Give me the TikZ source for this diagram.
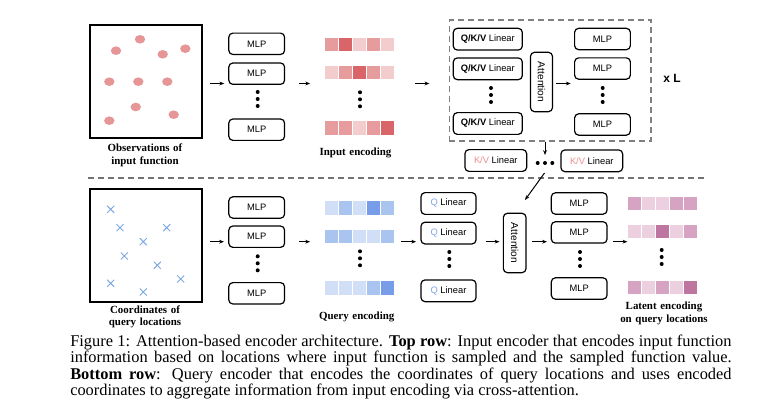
\documentclass[tikz,border=0pt]{standalone}
\usepackage{fontspec}
\setmainfont{Liberation Serif}
\setsansfont{Liberation Sans}
\usepackage{xcolor}
\usepackage{tikz}
\usetikzlibrary{arrows.meta, positioning, calc}

\definecolor{obsdot}{RGB}{231,150,152}
\definecolor{encl}{RGB}{243,204,206}
\definecolor{encm}{RGB}{230,155,157}
\definecolor{encd}{RGB}{217,101,105}
\definecolor{qryl}{RGB}{208,222,246}
\definecolor{qrym}{RGB}{170,196,240}
\definecolor{qryd}{RGB}{120,157,232}
\definecolor{latl}{RGB}{236,208,224}
\definecolor{latm}{RGB}{214,163,194}
\definecolor{latd}{RGB}{190,118,160}
\definecolor{qcol}{RGB}{125,165,230}
\definecolor{kvcol}{RGB}{236,140,140}
\definecolor{crosscol}{RGB}{125,168,225}

% one row of encoding cells: name, left x, centre y, colours
\newcommand{\encrow}[4]{%
  \foreach \c [count=\i] in {#4}
    \node[cell, fill=\c] (#1-\i) at ({#2+7+14*(\i-1)}, #3) {};}
% three stacked dots
\newcommand{\vdotsat}[2]{%
  \foreach \d in {-7,0,7} \fill (#1, #2+\d) circle (2);}

\begin{document}
\begin{tikzpicture}[
    x=0.75pt, y=-0.75pt,
    >={Stealth[length=3.6pt, width=2.8pt]},
    box/.style={draw, rounded corners=3pt, line width=0.9pt, minimum height=16pt,
                font=\fontsize{7}{8}\selectfont\sffamily, inner sep=1pt, align=center},
    mlpbox/.style={box, minimum width=41.8pt},
    qkvbox/.style={box, minimum width=51.75pt, minimum height=16.3pt},
    kvbox/.style={box, minimum width=46.3pt, minimum height=16.3pt},
    qbox/.style={box, minimum width=41.25pt, minimum height=16.3pt},
    attbox/.style={box, rotate=-90, minimum width=44.5pt, minimum height=16.5pt,
                   font=\fontsize{7.6}{8}\selectfont\sffamily},
    frame/.style={draw, line width=1.5pt, minimum width=84pt, minimum height=84.75pt, inner sep=0pt},
    cell/.style={inner sep=0pt, minimum size=10pt},
    lbl/.style={font=\fontsize{8.2}{9.5}\selectfont\bfseries, align=center, text width=100pt,
                inner sep=0pt, anchor=base},
    dashbox/.style={draw=black!50, line width=1pt, dash pattern=on 4.5pt off 3pt,
                    minimum width=151.3pt, minimum height=90.75pt, inner sep=0pt},
    sepline/.style={draw=black!55, line width=0.9pt, dash pattern=on 4.5pt off 3pt},
    arr/.style={->, line width=0.75pt},
    caption/.style={anchor=base west, inner sep=0pt, text width=496pt, align=justify,
                    font=\fontsize{12.3}{12.15}\selectfont},
]
\useasboundingbox (0,0) rectangle (758,416);

\coordinate (trow) at (0,83.5);
\coordinate (brow) at (0,241.7);

% === Top row: observations ===
\node[frame] (obs) at (146,81.5) {};
\foreach \px/\py in {140/39.3, 116/50.7, 162.7/54.3, 185.3/48.7, 109.3/81.7,
                     138.3/81.7, 167.3/81.7, 135.7/107, 173.7/114.7, 109.3/120.7}
  \fill[obsdot] (\px,\py) ellipse (5.2 and 4.3);
\node[lbl] (obslbl) at (145,151.7) {Observations of\\input function};

% === Top row: MLPs ===
\node[mlpbox] (mlpa1) at (256.7,43.8) {MLP};
\node[mlpbox, below=5.5pt of mlpa1] (mlpa2) {MLP};
\node[mlpbox] (mlpa3) at (256.7,129.7) {MLP};
\vdotsat{257.7}{99}

% === Top row: input encoding ===
\encrow{ienc-1}{324.3}{44.2}{encm,encd,encl,encm,encl}
\encrow{ienc-2}{324.3}{72.3}{encl,encm,encd,encm,encl}
\encrow{ienc-3}{324.3}{128}{encm,encm,encl,encm,encd}
\vdotsat{360}{99.3}
\node[lbl] (ienclbl) at (355.5,155.7) {Input encoding};

% === Top row: self-attention block ===
\node[dashbox] (block) at (550.2,80.5) {};
\node[qkvbox] (qkv1) at (487.8,39.2) {\textbf{Q/K/V} Linear};
\node[qkvbox, below=5pt of qkv1] (qkv2) {\textbf{Q/K/V} Linear};
\node[qkvbox] (qkv3) at (487.8,123.5) {\textbf{Q/K/V} Linear};
\vdotsat{491}{95}
\node[attbox] (atta) at (541.5,82) {Attention};
\node[mlpbox] (mlpb1) at (602.5,39) {MLP};
\node[mlpbox, below=5.25pt of mlpb1] (mlpb2) {MLP};
\node[mlpbox] (mlpb3) at (602.5,124.5) {MLP};
\vdotsat{602.7}{95}
\node[font=\fontsize{9}{10}\selectfont\sffamily\bfseries] (reps) at (672,78) {x L};

\draw[arr, shorten <=5.25pt, shorten >=3pt] (obs.east |- trow) -- (mlpa1.west |- trow);
\draw[arr, shorten <=10.5pt, shorten >=10.7pt] (mlpa1.east |- trow) -- (ienc-2-1.west |- trow);
\draw[arr, shorten <=15.5pt, shorten >=14.5pt] (ienc-2-5.east |- trow) -- (block.west |- trow);
\draw[arr, shorten <=2pt, shorten >=2.5pt] (atta.north |- trow) -- (mlpb1.west |- trow);

% === K/V projections ===
\node[kvbox] (kv1) at (495.8,160.5) {\textcolor{kvcol}{K/V} Linear};
\node[kvbox] (kv2) at (591.8,160.8) {\textcolor{kvcol}{K/V} Linear};
\coordinate (kvdots) at (545,163);
\foreach \dx in {-7.3,0,7.3} \fill ($(kvdots)+(\dx,0)$) circle (2);
\draw[arr, shorten >=6pt] (block.south -| kvdots) -- (kvdots);

\draw[sepline] (88,178) -- (708,178);

% === Bottom row: query coordinates ===
\node[frame] (coords) at (146,245.5) {};
\foreach \px/\py in {110.7/209.3, 120/227.7, 166.7/227.7, 143.3/241.7, 124.3/256,
                     157.3/265.3, 180.7/279, 110.7/283.3, 143.3/292}
  \draw[crosscol, line width=0.7pt] (\px-3.5,\py-3.5) -- (\px+3.5,\py+3.5)
                                    (\px-3.5,\py+3.5) -- (\px+3.5,\py-3.5);
\node[lbl] (coordlbl) at (145,313.3) {Coordinates of\\query locations};

% === Bottom row: MLPs ===
\node[mlpbox] (mlpc1) at (256.7,207.5) {MLP};
\node[mlpbox, below=5pt of mlpc1] (mlpc2) {MLP};
\node[mlpbox] (mlpc3) at (256.7,293.3) {MLP};
\vdotsat{257.7}{263.3}

% === Bottom row: query encoding ===
\encrow{qenc-1}{324.3}{208}{qryl,qrym,qryl,qryd,qrym}
\encrow{qenc-2}{324.3}{236.2}{qrym,qrym,qryl,qryl,qrym}
\encrow{qenc-3}{324.3}{288}{qryl,qryl,qryl,qrym,qryd}
\vdotsat{360}{258.3}
\node[lbl] (qenclbl) at (356.7,320) {Query encoding};

% === Bottom row: cross-attention ===
\node[qbox] (ql1) at (448.5,203.5) {\textcolor{qcol}{Q} Linear};
\node[qbox, below=5pt of ql1] (ql2) {\textcolor{qcol}{Q} Linear};
\node[qbox] (ql3) at (448.5,290.8) {\textcolor{qcol}{Q} Linear};
\vdotsat{449.3}{259}
\node[attbox, minimum height=17pt] (attb) at (514.7,243) {Attention};
\node[mlpbox] (mlpd1) at (579.2,203.5) {MLP};
\node[mlpbox, below=4.8pt of mlpd1] (mlpd2) {MLP};
\node[mlpbox] (mlpd3) at (579.2,288.5) {MLP};
\vdotsat{580}{259}

% === Bottom row: latent encoding ===
\encrow{lat-1}{627.7}{203.3}{latm,latl,latl,latm,latm}
\encrow{lat-2}{627.7}{231.7}{latl,latl,latd,latl,latm}
\encrow{lat-3}{627.7}{287.5}{latm,latl,latm,latl,latd}
\vdotsat{661.7}{257}
\node[lbl] (latlbl) at (664,310) {Latent encoding\\on query locations};

\draw[arr, shorten <=5.25pt, shorten >=3.2pt] (coords.east |- brow) -- (mlpc1.west |- brow);
\draw[arr, shorten <=10.5pt, shorten >=10.7pt] (mlpc1.east |- brow) -- (qenc-2-1.west |- brow);
\draw[arr, shorten <=5pt, shorten >=3.2pt] (qenc-2-5.east |- brow) -- (ql1.west |- brow);
\draw[arr, shorten <=6.75pt, shorten >=2.5pt] (ql1.east |- brow) -- (attb.south |- brow);
\draw[arr, shorten <=3.75pt, shorten >=2.8pt] (attb.north |- brow) -- (mlpd1.west |- brow);
\draw[arr, shorten <=3.75pt, shorten >=0.3pt] (mlpd1.east |- brow) -- (lat-2-1.west |- brow);

% K/V into the cross-attention
\coordinate (kvout) at (544.5,173);
\coordinate (kvin) at (525,200);
\draw[arr] (kvout) -- (kvin);

% === Caption ===
\node[caption] (cap) at (70,346.7) {Figure 1: Attention-based encoder architecture. \textbf{Top row}: Input encoder that encodes input function\linebreak
information based on locations where input function is sampled and the sampled function value.\linebreak
\textbf{Bottom row}: Query encoder that encodes the coordinates of query locations and uses encoded\linebreak
coordinates to aggregate information from input encoding via cross-attention.};

\end{tikzpicture}
\end{document}
